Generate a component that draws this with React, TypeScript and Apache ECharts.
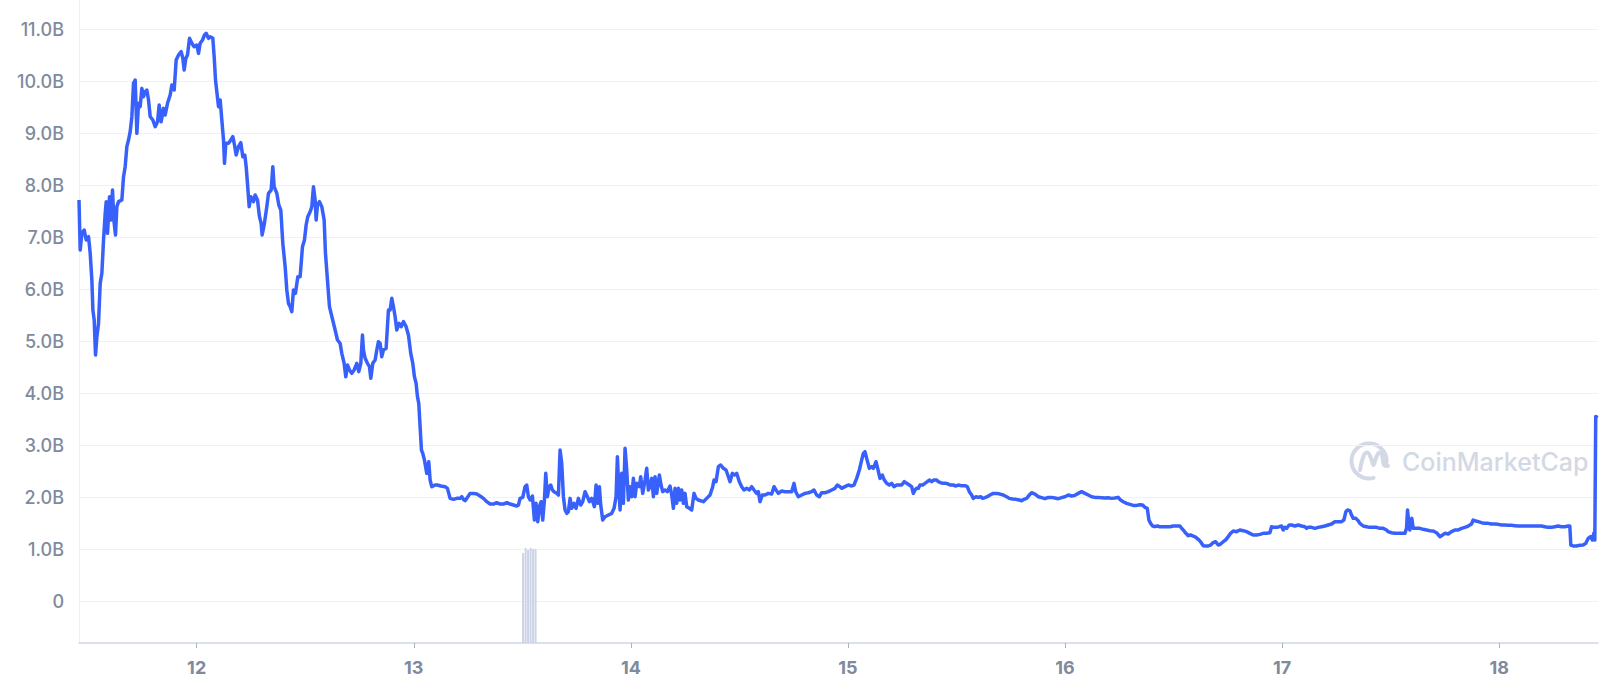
import React, { useEffect, useRef } from "react";
import * as echarts from "echarts";

// Time in fractional day-of-month, values in billions (B)
const dayPoints: number[] = [
  11.458, 11.4635, 11.4712, 11.4819, 11.4912, 11.5019, 11.5096, 11.5173, 11.5219, 11.528,
  11.5341, 11.5403, 11.548, 11.5556, 11.5633, 11.571, 11.5787, 11.5833, 11.5894, 11.5986,
  11.6048, 11.6124, 11.6186, 11.6262, 11.6324, 11.6401, 11.6554, 11.6631, 11.6707, 11.6784,
  11.6861, 11.6938, 11.7015, 11.7091, 11.7168, 11.7245, 11.7322, 11.7398, 11.7475, 11.7552,
  11.7629, 11.7705, 11.7782, 11.7859, 11.7982, 11.8089, 11.8197, 11.8273, 11.8365, 11.8473,
  11.8549, 11.8657, 11.878, 11.8857, 11.8964, 11.9056, 11.9164, 11.9286, 11.9363, 11.9425,
  11.9501, 11.9578, 11.967, 11.9778, 11.9885, 12.0008, 12.0085, 12.0161, 12.0269, 12.0361,
  12.0438, 12.0545, 12.0622, 12.0745, 12.0806, 12.0868, 12.0929, 12.1006, 12.1083, 12.1159,
  12.1236, 12.1282, 12.1344, 12.1466, 12.1574, 12.1666, 12.1743, 12.1819, 12.1927, 12.2034,
  12.2126, 12.2218, 12.228, 12.2341, 12.2418, 12.2495, 12.2618, 12.2694, 12.2802, 12.2894,
  12.297, 12.3016, 12.3109, 12.3231, 12.3308, 12.3431, 12.3508, 12.3569, 12.3692, 12.3784,
  12.3876, 12.3968, 12.4076, 12.4152, 12.4229, 12.4306, 12.4383, 12.4459, 12.4551, 12.4659,
  12.4766, 12.4874, 12.4966, 12.5042, 12.5119, 12.5227, 12.5304, 12.538, 12.5457, 12.5503,
  12.5565, 12.5657, 12.5764, 12.5872, 12.5933, 12.6025, 12.6117, 12.6378, 12.6486, 12.6608,
  12.6685, 12.6793, 12.6869, 12.6946, 12.7038, 12.7146, 12.7253, 12.7376, 12.7468, 12.756,
  12.7637, 12.7683, 12.776, 12.7867, 12.7959, 12.8021, 12.8113, 12.822, 12.8297, 12.8374,
  12.845, 12.8527, 12.8604, 12.8727, 12.8834, 12.8911, 12.8988, 12.9064, 12.9141, 12.9218,
  12.9325, 12.9417, 12.9525, 12.9648, 12.9755, 12.9862, 12.9955, 13.0031, 13.0108, 13.017,
  13.0231, 13.0292, 13.0354, 13.0415, 13.0492, 13.0599, 13.0691, 13.0753, 13.0829, 13.0983,
  13.109, 13.1244, 13.1444, 13.1551, 13.1674, 13.1828, 13.1981, 13.2134, 13.2211, 13.2288,
  13.2365, 13.2442, 13.2595, 13.2749, 13.2902, 13.3056, 13.3209, 13.3363, 13.3516, 13.3669,
  13.3823, 13.3976, 13.413, 13.4283, 13.4437, 13.459, 13.4744, 13.4821, 13.4898, 13.502,
  13.5128, 13.5204, 13.5281, 13.5358, 13.5465, 13.5558, 13.5634, 13.5711, 13.5788, 13.5865,
  13.5941, 13.6018, 13.608, 13.6156, 13.6233, 13.631, 13.6386, 13.6463, 13.6586, 13.6663,
  13.674, 13.6816, 13.6893, 13.697, 13.7047, 13.7123, 13.72, 13.7277, 13.7384, 13.7476,
  13.7584, 13.7691, 13.7783, 13.7891, 13.7998, 13.809, 13.8198, 13.8321, 13.8397, 13.8474,
  13.8551, 13.8612, 13.8704, 13.8812, 13.8966, 13.9119, 13.9227, 13.9319, 13.938, 13.9441,
  13.9503, 13.9579, 13.9656, 13.9733, 13.981, 13.9886, 13.9963, 14.004, 14.0117, 14.0193,
  14.027, 14.0393, 14.0454, 14.0546, 14.0654, 14.0731, 14.0807, 14.0884, 14.0961, 14.1038,
  14.1114, 14.1191, 14.1314, 14.139, 14.1467, 14.1575, 14.1682, 14.1805, 14.1882, 14.1959,
  14.2035, 14.2112, 14.2189, 14.2266, 14.2342, 14.2419, 14.2496, 14.2573, 14.2695, 14.2803,
  14.291, 14.3002, 14.311, 14.334, 14.3494, 14.3647, 14.377, 14.3832, 14.3924, 14.4031,
  14.4139, 14.4261, 14.4384, 14.4492, 14.4568, 14.4676, 14.4768, 14.4875, 14.4998, 14.5106,
  14.5213, 14.5336, 14.5459, 14.5566, 14.5674, 14.5796, 14.5873, 14.595, 14.6057, 14.618,
  14.6334, 14.6487, 14.6595, 14.6687, 14.6794, 14.6948, 14.7101, 14.7255, 14.7408, 14.7516,
  14.7592, 14.7715, 14.7869, 14.8022, 14.8176, 14.8329, 14.8437, 14.856, 14.8683, 14.879,
  14.8944, 14.9097, 14.9251, 14.9404, 14.9512, 14.9634, 14.9711, 14.9865, 15.0018, 15.0172,
  15.0279, 15.0402, 15.0525, 15.0632, 15.0709, 15.0785, 15.0862, 15.0985, 15.1092, 15.1169,
  15.1292, 15.1369, 15.1476, 15.1584, 15.1676, 15.1783, 15.1906, 15.2013, 15.2121, 15.2244,
  15.2366, 15.2474, 15.2597, 15.2704, 15.2827, 15.2934, 15.3011, 15.3088, 15.3165, 15.3241,
  15.3318, 15.3441, 15.3548, 15.3656, 15.3748, 15.3855, 15.3963, 15.4086, 15.4162, 15.427,
  15.4393, 15.4515, 15.4623, 15.473, 15.4853, 15.4976, 15.5083, 15.5237, 15.539, 15.5498,
  15.559, 15.5698, 15.5774, 15.5897, 15.6004, 15.6112, 15.6204, 15.6311, 15.6419, 15.6542,
  15.6695, 15.6849, 15.7002, 15.7156, 15.7309, 15.7432, 15.7586, 15.7739, 15.7893, 15.8,
  15.8107, 15.823, 15.8353, 15.8461, 15.8614, 15.8768, 15.8921, 15.9075, 15.9228, 15.9382,
  15.9535, 15.9689, 15.9842, 15.9996, 16.0149, 16.0303, 16.0456, 16.061, 16.0763, 16.0917,
  16.107, 16.1224, 16.1377, 16.1531, 16.1684, 16.1838, 16.1991, 16.2145, 16.2298, 16.2452,
  16.2559, 16.2682, 16.2835, 16.2989, 16.3142, 16.3296, 16.3449, 16.3572, 16.368, 16.3787,
  16.3864, 16.394, 16.4033, 16.414, 16.4247, 16.437, 16.4524, 16.4677, 16.4831, 16.4984,
  16.5138, 16.5291, 16.5368, 16.5445, 16.5568, 16.5675, 16.5782, 16.5905, 16.6028, 16.6135,
  16.6243, 16.6366, 16.6488, 16.6596, 16.6703, 16.6826, 16.6934, 16.7057, 16.7164, 16.7287,
  16.7394, 16.7517, 16.7624, 16.7747, 16.7901, 16.8054, 16.8208, 16.8361, 16.8515, 16.8668,
  16.8822, 16.8975, 16.9129, 16.9282, 16.9436, 16.9513, 16.962, 16.9743, 16.9866, 16.9973,
  17.005, 17.0127, 17.0203, 17.0326, 17.0434, 17.0587, 17.0741, 17.0894, 17.1048, 17.1124,
  17.1201, 17.1355, 17.1508, 17.1662, 17.1815, 17.1969, 17.2122, 17.2276, 17.2429, 17.2583,
  17.2736, 17.2844, 17.2936, 17.3013, 17.312, 17.3197, 17.3274, 17.3396, 17.3504, 17.3581,
  17.3734, 17.3888, 17.4041, 17.4195, 17.4348, 17.4502, 17.4655, 17.4809, 17.4885, 17.5039,
  17.5192, 17.5346, 17.5499, 17.5653, 17.573, 17.5776, 17.5822, 17.5883, 17.5929, 17.5975,
  17.6037, 17.619, 17.6344, 17.6497, 17.6651, 17.6804, 17.6958, 17.7111, 17.7265, 17.7387,
  17.7495, 17.7649, 17.7802, 17.7956, 17.8109, 17.8263, 17.8416, 17.857, 17.8723, 17.88,
  17.8877, 17.903, 17.9184, 17.9337, 17.9491, 17.9644, 17.9798, 17.9951, 18.0105, 18.0258,
  18.0412, 18.0565, 18.0719, 18.0872, 18.1026, 18.1179, 18.1333, 18.1486, 18.164, 18.1793,
  18.1947, 18.21, 18.2254, 18.2407, 18.2561, 18.2714, 18.2868, 18.3021, 18.3175, 18.3252,
  18.3298, 18.3405, 18.3559, 18.3712, 18.3866, 18.3989, 18.4096, 18.4204, 18.4296, 18.4357,
  18.4403, 18.4425, 18.4445, 18.454,
];

const volumeB: number[] = [
  7.719, 6.757, 7.077, 7.142, 6.949, 7.013, 6.692, 6.179, 5.602, 5.409,
  4.735, 5.088, 5.345, 6.115, 6.308, 6.949, 7.462, 7.687, 7.077, 7.783,
  7.334, 7.911, 7.334, 7.045, 7.591, 7.687, 7.719, 8.168, 8.361, 8.746,
  8.874, 9.034, 9.323, 9.965, 10.029, 9.002, 9.58, 9.516, 9.868, 9.708,
  9.804, 9.836, 9.644, 9.323, 9.259, 9.131, 9.227, 9.548, 9.227, 9.483,
  9.355, 9.58, 9.74, 9.933, 9.836, 10.414, 10.51, 10.574, 10.446, 10.221,
  10.446, 10.51, 10.831, 10.735, 10.671, 10.703, 10.542, 10.735, 10.799, 10.895,
  10.927, 10.831, 10.863, 10.831, 10.478, 10.029, 9.804, 9.516, 9.644, 9.259,
  8.874, 8.425, 8.81, 8.81, 8.874, 8.938, 8.778, 8.585, 8.746, 8.823,
  8.553, 8.585, 8.361, 8.04, 7.591, 7.783, 7.687, 7.815, 7.719, 7.398,
  7.27, 7.045, 7.238, 7.591, 7.847, 7.911, 8.361, 7.976, 7.847, 7.623,
  7.526, 6.885, 6.436, 5.987, 5.73, 5.666, 5.569, 5.987, 5.922, 6.243,
  6.243, 6.821, 6.949, 7.238, 7.398, 7.494, 7.591, 7.976, 7.719, 7.334,
  7.623, 7.687, 7.591, 7.334, 6.692, 6.179, 5.666, 5.217, 5.024, 4.96,
  4.767, 4.575, 4.318, 4.543, 4.447, 4.382, 4.447, 4.575, 4.415, 4.575,
  5.12, 4.832, 4.671, 4.575, 4.511, 4.286, 4.575, 4.639, 4.832, 4.992,
  4.96, 4.703, 4.832, 4.864, 5.602, 5.602, 5.826, 5.666, 5.473, 5.217,
  5.345, 5.281, 5.377, 5.281, 5.12, 4.767, 4.575, 4.318, 4.19, 3.933,
  3.805, 3.356, 2.907, 2.842, 2.714, 2.457, 2.682, 2.329, 2.201, 2.233,
  2.233, 2.214, 2.201, 2.169, 1.976, 1.957, 1.976, 1.976, 2.008, 1.957,
  1.931, 1.976, 2.072, 2.072, 2.059, 2.021, 1.976, 1.912, 1.867, 1.867,
  1.893, 1.867, 1.867, 1.893, 1.867, 1.848, 1.829, 1.848, 1.976, 1.995,
  2.201, 2.233, 2.008, 1.944, 2.021, 1.559, 1.88, 1.527, 1.816, 1.912,
  1.559, 1.944, 2.458, 2.008, 2.201, 2.233, 2.137, 2.105, 2.072, 2.04,
  2.907, 2.65, 2.008, 1.752, 1.688, 1.72, 1.976, 1.784, 1.88, 1.784,
  1.976, 1.848, 1.912, 2.105, 2.008, 1.912, 1.976, 1.816, 2.233, 1.88,
  2.201, 1.848, 1.559, 1.623, 1.655, 1.688, 1.784, 2.008, 2.778, 2.201,
  1.752, 2.458, 1.88, 2.939, 2.522, 1.944, 2.201, 2.008, 2.361, 2.008,
  2.265, 2.201, 2.393, 2.072, 2.329, 2.554, 2.137, 2.201, 2.361, 2.008,
  2.393, 2.072, 2.425, 2.233, 2.105, 2.137, 2.105, 2.214, 2.04, 1.784,
  2.169, 1.88, 2.169, 1.944, 2.137, 1.88, 2.072, 1.816, 1.784, 1.752,
  2.072, 1.976, 1.944, 1.912, 1.976, 2.04, 2.201, 2.329, 2.297, 2.586,
  2.618, 2.554, 2.522, 2.393, 2.297, 2.458, 2.425, 2.458, 2.297, 2.201,
  2.137, 2.169, 2.137, 2.201, 2.137, 2.072, 2.105, 1.912, 2.04, 2.04,
  2.072, 2.059, 2.201, 2.137, 2.072, 2.117, 2.105, 2.105, 2.105, 2.265,
  2.105, 2.008, 2.04, 2.072, 2.085, 2.105, 2.137, 2.04, 2.008, 2.085,
  2.085, 2.105, 2.137, 2.169, 2.233, 2.201, 2.169, 2.201, 2.233, 2.214,
  2.233, 2.361, 2.522, 2.714, 2.842, 2.875, 2.746, 2.554, 2.586, 2.554,
  2.682, 2.554, 2.361, 2.425, 2.329, 2.265, 2.233, 2.265, 2.201, 2.233,
  2.233, 2.233, 2.297, 2.265, 2.233, 2.201, 2.072, 2.137, 2.169, 2.169,
  2.233, 2.233, 2.265, 2.297, 2.329, 2.297, 2.329, 2.329, 2.297, 2.278,
  2.265, 2.265, 2.252, 2.233, 2.233, 2.214, 2.233, 2.22, 2.22, 2.201,
  2.105, 2.04, 1.976, 2.008, 1.995, 2.008, 1.976, 1.989, 2.008, 2.04,
  2.072, 2.072, 2.059, 2.04, 2.008, 1.976, 1.963, 1.957, 1.944, 1.931,
  1.957, 1.976, 2.04, 2.085, 2.059, 2.008, 1.989, 1.97, 1.995, 1.995,
  1.983, 1.97, 1.989, 2.008, 2.04, 2.021, 2.034, 2.072, 2.105, 2.072,
  2.04, 2.008, 1.995, 1.995, 1.989, 1.983, 1.989, 1.976, 1.983, 1.995,
  1.944, 1.912, 1.88, 1.861, 1.841, 1.841, 1.854, 1.848, 1.803, 1.784,
  1.559, 1.495, 1.444, 1.431, 1.444, 1.431, 1.431, 1.431, 1.431, 1.444,
  1.444, 1.444, 1.399, 1.367, 1.303, 1.258, 1.271, 1.251, 1.226, 1.187,
  1.142, 1.065, 1.059, 1.059, 1.078, 1.123, 1.142, 1.078, 1.097, 1.142,
  1.174, 1.238, 1.303, 1.347, 1.335, 1.367, 1.354, 1.335, 1.303, 1.27,
  1.27, 1.283, 1.303, 1.303, 1.315, 1.431, 1.418, 1.418, 1.431, 1.444,
  1.367, 1.418, 1.399, 1.463, 1.463, 1.444, 1.463, 1.444, 1.431, 1.399,
  1.418, 1.418, 1.399, 1.418, 1.431, 1.444, 1.463, 1.482, 1.527, 1.527,
  1.527, 1.559, 1.72, 1.752, 1.739, 1.655, 1.591, 1.591, 1.546, 1.495,
  1.444, 1.431, 1.418, 1.418, 1.418, 1.399, 1.399, 1.367, 1.335, 1.315,
  1.303, 1.303, 1.303, 1.303, 1.399, 1.752, 1.559, 1.367, 1.527, 1.591,
  1.399, 1.399, 1.399, 1.38, 1.367, 1.354, 1.347, 1.315, 1.238, 1.27,
  1.303, 1.29, 1.335, 1.367, 1.367, 1.399, 1.418, 1.444, 1.482, 1.559,
  1.546, 1.527, 1.508, 1.495, 1.495, 1.482, 1.482, 1.476, 1.463, 1.463,
  1.457, 1.457, 1.45, 1.444, 1.444, 1.444, 1.444, 1.444, 1.444, 1.444,
  1.444, 1.431, 1.418, 1.418, 1.431, 1.444, 1.431, 1.431, 1.444, 1.444,
  1.078, 1.059, 1.059, 1.072, 1.078, 1.11, 1.206, 1.238, 1.174, 1.303,
  1.174, 1.18, 3.55, 3.53,
];

// Thin grey bars near the 13th (secondary scale)
const spikeDays: number[] = [13.5036, 13.5151, 13.5266, 13.5381, 13.5496, 13.5611];
const spikeValues: number[] = [1.73, 1.83, 1.79, 1.83, 1.81, 1.81];

const yTicks: number[] = [0, 1, 2, 3, 4, 5, 6, 7, 8, 9, 10, 11];
const xTicks: number[] = [12, 13, 14, 15, 16, 17, 18];

const X_MIN = 11.458;
const X_MAX = 18.455;
const Y_MIN = -0.808;
const Y_MAX = 11.569;

export default function App() {
  const ref = useRef<HTMLDivElement>(null);

  useEffect(() => {
    if (!ref.current) return;
    const chart = echarts.init(ref.current, undefined, { renderer: "svg" });
    const lineData = dayPoints.map((d, i) => [d, volumeB[i]]);
    const barData = spikeDays.map((d, i) => [d, spikeValues[i]]);
    const wmColor = "#d3d8e5";

    chart.setOption({
      animation: false,
      backgroundColor: "#ffffff",
      grid: { left: 79, right: 2, top: 0, bottom: 45 },
      xAxis: {
        type: "value",
        min: X_MIN,
        max: X_MAX,
        axisLine: { show: true, onZero: false, lineStyle: { color: "#cfd6e6", width: 1.5 } },
        axisTick: {
          show: true,
          customValues: xTicks,
          length: 5,
          lineStyle: { color: "#aab2c2", width: 1 },
        },
        axisLabel: {
          customValues: xTicks,
          formatter: (v: number) => String(Math.round(v)),
          color: "#808a9d",
          fontFamily: "Inter",
          fontSize: 18,
          fontWeight: "bold",
          margin: 15,
        },
        splitLine: { show: false },
      },
      yAxis: [
        {
          type: "value",
          min: Y_MIN,
          max: Y_MAX,
          axisLine: { show: true, onZero: false, lineStyle: { color: "#eceff5", width: 1 } },
          axisTick: { show: false, customValues: yTicks },
          axisLabel: {
            customValues: yTicks,
            formatter: (v: number) => (v === 0 ? "0" : v.toFixed(1) + "B"),
            color: "#808a9d",
            fontFamily: "Inter",
            fontSize: 18,
            fontWeight: 500,
            margin: 15,
          },
          splitLine: { show: true, lineStyle: { color: "#eff2f5", width: 1 } },
        },
        {
          type: "value",
          min: 0,
          max: Y_MAX - Y_MIN,
          show: false,
          splitLine: { show: false },
        },
      ],
      graphic: [
        {
          type: "arc",
          z: 0,
          silent: true,
          shape: {
            cx: 1369,
            cy: 461,
            r: 17.5,
            startAngle: (75 * Math.PI) / 180,
            endAngle: (375 * Math.PI) / 180,
            clockwise: true,
          },
          style: { stroke: wmColor, lineWidth: 4, fill: null, lineCap: "round" },
        },
        {
          type: "polyline",
          z: 0,
          silent: true,
          shape: {
            points: [
              [1360, 470],
              [1364, 455],
              [1367.5, 452.5],
              [1371, 458],
              [1373.5, 465],
              [1376, 458],
              [1379, 452.5],
              [1382, 455],
              [1384, 465],
              [1388, 466],
            ],
            smooth: 0.4,
          },
          style: { stroke: wmColor, lineWidth: 4, fill: null, lineCap: "round", lineJoin: "round" },
        },
        {
          type: "text",
          z: 0,
          silent: true,
          x: 1402,
          y: 462,
          style: {
            text: "CoinMarketCap",
            fill: wmColor,
            font: "500 25px Inter",
            verticalAlign: "middle",
            align: "left",
          },
        },
      ],
      series: [
        {
          type: "bar",
          yAxisIndex: 1,
          data: barData,
          barWidth: 2,
          itemStyle: { color: "#ccd3e4" },
          silent: true,
          z: 1,
        },
        {
          type: "line",
          data: lineData,
          showSymbol: false,
          symbol: "none",
          clip: true,
          lineStyle: { color: "#3861fb", width: 3.5, join: "round" },
          z: 3,
        },
      ],
    });

    return () => {
      chart.dispose();
    };
  }, []);

  return (
    <div
      ref={ref}
      style={{ position: "fixed", left: 0, top: 0, width: 1600, height: 688, background: "#fff" }}
    />
  );
}
